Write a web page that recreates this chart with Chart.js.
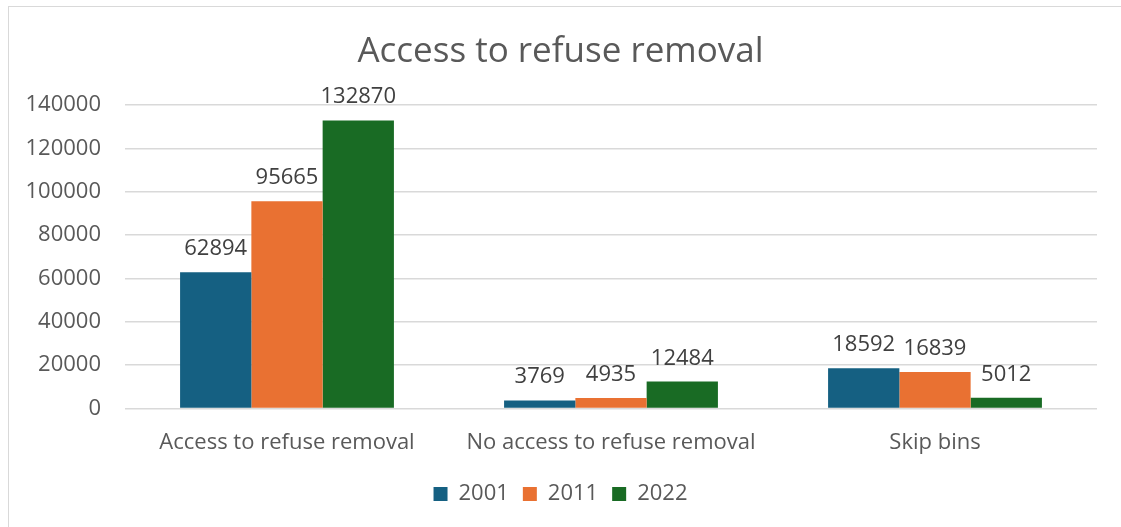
<!DOCTYPE html>
<html>
<head>
<meta charset="utf-8">
<script src="https://cdn.jsdelivr.net/npm/chart.js@4.4.1/dist/chart.umd.min.js"></script>
<style>
  html, body { margin: 0; padding: 0; background: #fff; overflow: hidden; }
  #box {
    position: absolute; left: 8px; top: 6px;
    width: 1200px; height: 600px;
    border: 1px solid #d9d9d9;
  }
  #wrap { position: absolute; left: 0; top: 0; width: 1113px; height: 521px; }
</style>
</head>
<body>
<div id="box"><div id="wrap"><canvas id="chart"></canvas></div></div>
<script>
const categories = ["Access to refuse removal", "No access to refuse removal", "Skip bins"];
const years = ["2001", "2011", "2022"];
const values2001 = [62894, 3769, 18592];
const values2011 = [95665, 4935, 16839];
const values2022 = [132870, 12484, 5012];
const colors = ["#156082", "#E97132", "#196B24"];
const yTicks = [0, 20000, 40000, 60000, 80000, 100000, 120000, 140000];

const textColor = "#595959";
const fontFamily = "'Open Sans', sans-serif";

/* data labels above each bar */
const barLabels = {
  id: "barLabels",
  afterDatasetsDraw(chart) {
    const c = chart.ctx;
    c.save();
    c.font = "22px " + fontFamily;
    c.fillStyle = "#404040";
    c.textAlign = "center";
    c.textBaseline = "alphabetic";
    chart.data.datasets.forEach((ds, i) => {
      chart.getDatasetMeta(i).data.forEach((bar, j) => {
        c.fillText(String(ds.data[j]), bar.x, bar.y - 17);
      });
    });
    c.restore();
  }
};

new Chart(document.getElementById("chart"), {
  type: "bar",
  data: {
    labels: categories,
    datasets: [
      { label: years[0], data: values2001, backgroundColor: colors[0] },
      { label: years[1], data: values2011, backgroundColor: colors[1] },
      { label: years[2], data: values2022, backgroundColor: colors[2] }
    ]
  },
  options: {
    responsive: true,
    maintainAspectRatio: false,
    animation: false,
    layout: { padding: { left: 15, right: 25, top: 10, bottom: 13 } },
    datasets: { bar: { categoryPercentage: 0.66, barPercentage: 1.0 } },
    plugins: {
      title: {
        display: true,
        text: "Access to refuse removal",
        color: textColor,
        font: { family: fontFamily, size: 35, weight: "normal" },
        padding: { top: 14, bottom: 32 }
      },
      legend: {
        position: "bottom",
        labels: {
          color: textColor,
          font: { family: fontFamily, size: 22 },
          boxWidth: 14,
          boxHeight: 14,
          padding: 14
        }
      },
      tooltip: { enabled: false }
    },
    scales: {
      x: {
        grid: { display: false },
        border: { display: false },
        ticks: { color: textColor, font: { family: fontFamily, size: 22 }, padding: 13 }
      },
      y: {
        min: 0,
        max: 140000,
        afterFit: s => { s.width = 101; },
        afterBuildTicks: s => { s.ticks = yTicks.map(v => ({ value: v })); },
        grid: { color: "#d9d9d9", lineWidth: 1.5, drawTicks: false },
        border: { display: false },
        ticks: {
          color: textColor,
          font: { family: fontFamily, size: 22 },
          padding: 24,
          callback: v => String(v)
        }
      }
    }
  },
  plugins: [barLabels]
});
</script>
</body>
</html>
